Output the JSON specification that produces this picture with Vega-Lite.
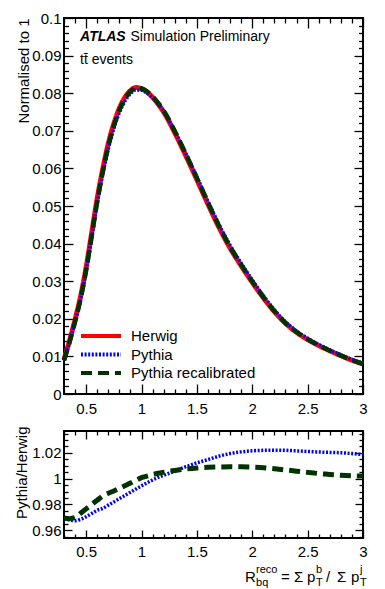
{
  "$schema": "https://vega.github.io/schema/vega-lite/v6.json",
  "autosize": {"type": "pad"},
  "padding": {"left": 12, "top": 10, "right": 5, "bottom": 5},
  "background": "white",
  "datasets": {
    "main": [
      {"x":0.3,"y":0.0092,"s":"Herwig"},{"x":0.35,"y":0.0142,"s":"Herwig"},{"x":0.4,"y":0.0198,"s":"Herwig"},{"x":0.45,"y":0.026,"s":"Herwig"},{"x":0.5,"y":0.0337,"s":"Herwig"},{"x":0.55,"y":0.0428,"s":"Herwig"},{"x":0.6,"y":0.052,"s":"Herwig"},{"x":0.65,"y":0.0598,"s":"Herwig"},{"x":0.7,"y":0.0666,"s":"Herwig"},{"x":0.75,"y":0.0719,"s":"Herwig"},{"x":0.8,"y":0.076,"s":"Herwig"},{"x":0.85,"y":0.0789,"s":"Herwig"},{"x":0.9,"y":0.0807,"s":"Herwig"},{"x":0.95,"y":0.0815,"s":"Herwig"},{"x":1.0,"y":0.0812,"s":"Herwig"},{"x":1.05,"y":0.0803,"s":"Herwig"},{"x":1.1,"y":0.0789,"s":"Herwig"},{"x":1.15,"y":0.0771,"s":"Herwig"},{"x":1.2,"y":0.0750,"s":"Herwig"},{"x":1.3,"y":0.0695,"s":"Herwig"},{"x":1.4,"y":0.0634,"s":"Herwig"},{"x":1.5,"y":0.057,"s":"Herwig"},{"x":1.6,"y":0.0505,"s":"Herwig"},{"x":1.7,"y":0.0443,"s":"Herwig"},{"x":1.8,"y":0.0388,"s":"Herwig"},{"x":1.9,"y":0.0341,"s":"Herwig"},{"x":2.0,"y":0.0297,"s":"Herwig"},{"x":2.1,"y":0.0256,"s":"Herwig"},{"x":2.2,"y":0.0219,"s":"Herwig"},{"x":2.3,"y":0.0188,"s":"Herwig"},{"x":2.4,"y":0.0164,"s":"Herwig"},{"x":2.5,"y":0.0145,"s":"Herwig"},{"x":2.6,"y":0.0129,"s":"Herwig"},{"x":2.7,"y":0.0115,"s":"Herwig"},{"x":2.8,"y":0.0102,"s":"Herwig"},{"x":2.9,"y":0.009,"s":"Herwig"},{"x":3.0,"y":0.008,"s":"Herwig"},
      {"x":0.3,"y":0.00891,"s":"Pythia"},{"x":0.35,"y":0.01375,"s":"Pythia"},{"x":0.4,"y":0.01915,"s":"Pythia"},{"x":0.45,"y":0.02518,"s":"Pythia"},{"x":0.5,"y":0.03271,"s":"Pythia"},{"x":0.55,"y":0.04164,"s":"Pythia"},{"x":0.6,"y":0.05073,"s":"Pythia"},{"x":0.65,"y":0.05842,"s":"Pythia"},{"x":0.7,"y":0.06523,"s":"Pythia"},{"x":0.75,"y":0.0706,"s":"Pythia"},{"x":0.8,"y":0.07482,"s":"Pythia"},{"x":0.85,"y":0.07787,"s":"Pythia"},{"x":0.9,"y":0.07985,"s":"Pythia"},{"x":0.95,"y":0.08085,"s":"Pythia"},{"x":1.0,"y":0.08075,"s":"Pythia"},{"x":1.05,"y":0.08004,"s":"Pythia"},{"x":1.1,"y":0.07882,"s":"Pythia"},{"x":1.15,"y":0.07718,"s":"Pythia"},{"x":1.2,"y":0.0752,"s":"Pythia"},{"x":1.3,"y":0.0699,"s":"Pythia"},{"x":1.4,"y":0.06399,"s":"Pythia"},{"x":1.5,"y":0.0577,"s":"Pythia"},{"x":1.6,"y":0.05125,"s":"Pythia"},{"x":1.7,"y":0.04508,"s":"Pythia"},{"x":1.8,"y":0.03956,"s":"Pythia"},{"x":1.9,"y":0.03481,"s":"Pythia"},{"x":2.0,"y":0.03034,"s":"Pythia"},{"x":2.1,"y":0.02616,"s":"Pythia"},{"x":2.2,"y":0.02238,"s":"Pythia"},{"x":2.3,"y":0.01921,"s":"Pythia"},{"x":2.4,"y":0.01675,"s":"Pythia"},{"x":2.5,"y":0.01481,"s":"Pythia"},{"x":2.6,"y":0.01317,"s":"Pythia"},{"x":2.7,"y":0.01173,"s":"Pythia"},{"x":2.8,"y":0.01041,"s":"Pythia"},{"x":2.9,"y":0.00918,"s":"Pythia"},{"x":3.0,"y":0.00815,"s":"Pythia"},
      {"x":0.3,"y":0.00892,"s":"Pythia recalibrated"},{"x":0.35,"y":0.01376,"s":"Pythia recalibrated"},{"x":0.4,"y":0.0192,"s":"Pythia recalibrated"},{"x":0.45,"y":0.0253,"s":"Pythia recalibrated"},{"x":0.5,"y":0.03291,"s":"Pythia recalibrated"},{"x":0.55,"y":0.04194,"s":"Pythia recalibrated"},{"x":0.6,"y":0.05113,"s":"Pythia recalibrated"},{"x":0.65,"y":0.059,"s":"Pythia recalibrated"},{"x":0.7,"y":0.06585,"s":"Pythia recalibrated"},{"x":0.75,"y":0.07122,"s":"Pythia recalibrated"},{"x":0.8,"y":0.07543,"s":"Pythia recalibrated"},{"x":0.85,"y":0.07847,"s":"Pythia recalibrated"},{"x":0.9,"y":0.08043,"s":"Pythia recalibrated"},{"x":0.95,"y":0.0814,"s":"Pythia recalibrated"},{"x":1.0,"y":0.08126,"s":"Pythia recalibrated"},{"x":1.05,"y":0.08046,"s":"Pythia recalibrated"},{"x":1.1,"y":0.07915,"s":"Pythia recalibrated"},{"x":1.15,"y":0.07742,"s":"Pythia recalibrated"},{"x":1.2,"y":0.07538,"s":"Pythia recalibrated"},{"x":1.3,"y":0.06994,"s":"Pythia recalibrated"},{"x":1.4,"y":0.06388,"s":"Pythia recalibrated"},{"x":1.5,"y":0.05747,"s":"Pythia recalibrated"},{"x":1.6,"y":0.05094,"s":"Pythia recalibrated"},{"x":1.7,"y":0.0447,"s":"Pythia recalibrated"},{"x":1.8,"y":0.03916,"s":"Pythia recalibrated"},{"x":1.9,"y":0.03441,"s":"Pythia recalibrated"},{"x":2.0,"y":0.02996,"s":"Pythia recalibrated"},{"x":2.1,"y":0.02582,"s":"Pythia recalibrated"},{"x":2.2,"y":0.02207,"s":"Pythia recalibrated"},{"x":2.3,"y":0.01893,"s":"Pythia recalibrated"},{"x":2.4,"y":0.0165,"s":"Pythia recalibrated"},{"x":2.5,"y":0.01457,"s":"Pythia recalibrated"},{"x":2.6,"y":0.01295,"s":"Pythia recalibrated"},{"x":2.7,"y":0.01154,"s":"Pythia recalibrated"},{"x":2.8,"y":0.01023,"s":"Pythia recalibrated"},{"x":2.9,"y":0.00902,"s":"Pythia recalibrated"},{"x":3.0,"y":0.00802,"s":"Pythia recalibrated"}
    ],
    "ratio": [
      {"x":0.3,"r":0.9687,"s":"Pythia"},{"x":0.35,"r":0.968,"s":"Pythia"},{"x":0.4,"r":0.9674,"s":"Pythia"},{"x":0.45,"r":0.9685,"s":"Pythia"},{"x":0.5,"r":0.9705,"s":"Pythia"},{"x":0.55,"r":0.973,"s":"Pythia"},{"x":0.6,"r":0.9755,"s":"Pythia"},{"x":0.65,"r":0.977,"s":"Pythia"},{"x":0.7,"r":0.9795,"s":"Pythia"},{"x":0.75,"r":0.982,"s":"Pythia"},{"x":0.8,"r":0.9845,"s":"Pythia"},{"x":0.85,"r":0.987,"s":"Pythia"},{"x":0.9,"r":0.9895,"s":"Pythia"},{"x":0.95,"r":0.992,"s":"Pythia"},{"x":1.0,"r":0.9945,"s":"Pythia"},{"x":1.05,"r":0.9968,"s":"Pythia"},{"x":1.1,"r":0.999,"s":"Pythia"},{"x":1.15,"r":1.001,"s":"Pythia"},{"x":1.2,"r":1.0027,"s":"Pythia"},{"x":1.3,"r":1.0058,"s":"Pythia"},{"x":1.4,"r":1.0093,"s":"Pythia"},{"x":1.5,"r":1.0123,"s":"Pythia"},{"x":1.6,"r":1.0148,"s":"Pythia"},{"x":1.7,"r":1.0175,"s":"Pythia"},{"x":1.8,"r":1.0195,"s":"Pythia"},{"x":1.9,"r":1.0208,"s":"Pythia"},{"x":2.0,"r":1.0216,"s":"Pythia"},{"x":2.1,"r":1.022,"s":"Pythia"},{"x":2.2,"r":1.0221,"s":"Pythia"},{"x":2.3,"r":1.022,"s":"Pythia"},{"x":2.4,"r":1.0216,"s":"Pythia"},{"x":2.5,"r":1.0211,"s":"Pythia"},{"x":2.6,"r":1.0207,"s":"Pythia"},{"x":2.7,"r":1.0204,"s":"Pythia"},{"x":2.8,"r":1.0201,"s":"Pythia"},{"x":2.9,"r":1.0195,"s":"Pythia"},{"x":3.0,"r":1.0187,"s":"Pythia"},
      {"x":0.3,"r":0.9695,"s":"Pythia recalibrated"},{"x":0.35,"r":0.969,"s":"Pythia recalibrated"},{"x":0.4,"r":0.9698,"s":"Pythia recalibrated"},{"x":0.45,"r":0.9732,"s":"Pythia recalibrated"},{"x":0.5,"r":0.9766,"s":"Pythia recalibrated"},{"x":0.55,"r":0.98,"s":"Pythia recalibrated"},{"x":0.6,"r":0.9833,"s":"Pythia recalibrated"},{"x":0.65,"r":0.9866,"s":"Pythia recalibrated"},{"x":0.7,"r":0.9887,"s":"Pythia recalibrated"},{"x":0.75,"r":0.9905,"s":"Pythia recalibrated"},{"x":0.8,"r":0.9925,"s":"Pythia recalibrated"},{"x":0.85,"r":0.9946,"s":"Pythia recalibrated"},{"x":0.9,"r":0.9966,"s":"Pythia recalibrated"},{"x":0.95,"r":0.9988,"s":"Pythia recalibrated"},{"x":1.0,"r":1.0008,"s":"Pythia recalibrated"},{"x":1.05,"r":1.002,"s":"Pythia recalibrated"},{"x":1.1,"r":1.0032,"s":"Pythia recalibrated"},{"x":1.15,"r":1.0042,"s":"Pythia recalibrated"},{"x":1.2,"r":1.005,"s":"Pythia recalibrated"},{"x":1.3,"r":1.0064,"s":"Pythia recalibrated"},{"x":1.4,"r":1.0075,"s":"Pythia recalibrated"},{"x":1.5,"r":1.0083,"s":"Pythia recalibrated"},{"x":1.6,"r":1.0088,"s":"Pythia recalibrated"},{"x":1.7,"r":1.0091,"s":"Pythia recalibrated"},{"x":1.8,"r":1.0092,"s":"Pythia recalibrated"},{"x":1.9,"r":1.0092,"s":"Pythia recalibrated"},{"x":2.0,"r":1.0089,"s":"Pythia recalibrated"},{"x":2.1,"r":1.0085,"s":"Pythia recalibrated"},{"x":2.2,"r":1.0077,"s":"Pythia recalibrated"},{"x":2.3,"r":1.0068,"s":"Pythia recalibrated"},{"x":2.4,"r":1.0058,"s":"Pythia recalibrated"},{"x":2.5,"r":1.0049,"s":"Pythia recalibrated"},{"x":2.6,"r":1.004,"s":"Pythia recalibrated"},{"x":2.7,"r":1.0033,"s":"Pythia recalibrated"},{"x":2.8,"r":1.0026,"s":"Pythia recalibrated"},{"x":2.9,"r":1.0022,"s":"Pythia recalibrated"},{"x":3.0,"r":1.002,"s":"Pythia recalibrated"}
    ],
    "atlas": [{"x":0.445,"y":0.0939,"t":"ATLAS"}],
    "notes": [{"x":0.9,"y":0.0939,"t":"Simulation Preliminary"},{"x":0.445,"y":0.0877,"t":"tt̄ events"}],
    "ttl_main": [{"x":1.934,"r":0.9202,"t":"R"},{"x":2.26,"r":0.9202,"t":"="},{"x":2.377,"r":0.9202,"t":"Σ"},{"x":2.494,"r":0.9202,"t":"p"},{"x":2.666,"r":0.9202,"t":"/"},{"x":2.765,"r":0.9202,"t":"Σ"},{"x":2.892,"r":0.9202,"t":"p"}],
    "ttl_sup": [{"x":2.034,"r":0.9272,"t":"reco"},{"x":2.576,"r":0.9272,"t":"b"},{"x":2.973,"r":0.9272,"t":"j"}],
    "ttl_sub": [{"x":2.034,"r":0.9164,"t":"bq"},{"x":2.576,"r":0.9164,"t":"T"},{"x":2.973,"r":0.9164,"t":"T"}]
  },
  "spacing": 37,
  "bounds": "flush",
  "resolve": {"scale": {"color": "independent", "strokeDash": "independent"}},
  "vconcat": [
    {
      "width": 299,
      "height": 376,
      "layer": [
        {
          "data": {"name": "main"},
          "transform": [{"filter": "datum.s == 'Herwig'"}],
          "mark": {"type": "line", "interpolate": "monotone", "strokeCap": "butt", "strokeWidth": 5},
          "encoding": {
            "x": {"field": "x", "type": "quantitative", "scale": {"domain": [0.3, 3], "nice": false, "zero": false},
              "axis": {"orient": "bottom", "title": null,
                "values": [0.3,0.4,0.5,0.6,0.7,0.8,0.9,1,1.1,1.2,1.3,1.4,1.5,1.6,1.7,1.8,1.9,2,2.1,2.2,2.3,2.4,2.5,2.6,2.7,2.8,2.9,3],
                "tickSize": {"condition": {"test": "round(datum.value*10)%5==0", "value": -10}, "value": -5},
                "labelExpr": "round(datum.value*10)%5==0 ? format(datum.value,'~g') : ''",
                "labelPadding": 17}},
            "y": {"field": "y", "type": "quantitative", "scale": {"domain": [0, 0.1], "nice": false},
              "axis": {"orient": "left", "title": "Normalised to 1",
                "values": [0,0.002,0.004,0.006,0.008,0.01,0.012,0.014,0.016,0.018,0.02,0.022,0.024,0.026,0.028,0.03,0.032,0.034,0.036,0.038,0.04,0.042,0.044,0.046,0.048,0.05,0.052,0.054,0.056,0.058,0.06,0.062,0.064,0.066,0.068,0.07,0.072,0.074,0.076,0.078,0.08,0.082,0.084,0.086,0.088,0.09,0.092,0.094,0.096,0.098,0.1],
                "tickSize": {"condition": {"test": "round(datum.value*500)%5==0", "value": -9}, "value": -4.5},
                "labelExpr": "round(datum.value*500)%5==0 ? format(datum.value,'~g') : ''",
                "labelPadding": 12,
                "titleAngle": -90, "titleX": -41, "titleY": 0, "titleAlign": "right", "titleBaseline": "middle"}},
            "color": {"field": "s", "type": "nominal",
              "scale": {"domain": ["Herwig", "Pythia", "Pythia recalibrated"], "range": ["#ff0000", "#0000ff", "#003300"]},
              "legend": {"orient": "none", "legendX": 15, "legendY": 310, "title": null, "symbolType": "stroke", "symbolSize": 1600, "symbolStrokeWidth": 4, "labelFontSize": 15, "labelFont": "Liberation Sans", "labelColor": "black", "labelOffset": 8, "rowPadding": 2.5, "clipHeight": 16, "padding": 0}},
            "strokeDash": {"field": "s", "type": "nominal",
              "scale": {"domain": ["Herwig", "Pythia", "Pythia recalibrated"], "range": [[1, 0], [2, 1.6], [11, 6]]},
              "legend": {"orient": "none", "legendX": 15, "legendY": 310, "title": null, "symbolType": "stroke", "symbolSize": 1600, "symbolStrokeWidth": 4, "labelFontSize": 15, "labelFont": "Liberation Sans", "labelColor": "black", "labelOffset": 8, "rowPadding": 2.5, "clipHeight": 16, "padding": 0}}
          }
        },
        {
          "data": {"name": "main"},
          "transform": [{"filter": "datum.s == 'Pythia'"}],
          "mark": {"type": "line", "interpolate": "monotone", "strokeCap": "butt", "strokeWidth": 3.5},
          "encoding": {
            "x": {"field": "x", "type": "quantitative", "axis": null},
            "y": {"field": "y", "type": "quantitative", "axis": null},
            "color": {"field": "s", "type": "nominal"},
            "strokeDash": {"field": "s", "type": "nominal"}
          }
        },
        {
          "data": {"name": "main"},
          "transform": [{"filter": "datum.s == 'Pythia recalibrated'"}],
          "mark": {"type": "line", "interpolate": "monotone", "strokeCap": "butt", "strokeWidth": 4.5},
          "encoding": {
            "x": {"field": "x", "type": "quantitative", "axis": null},
            "y": {"field": "y", "type": "quantitative", "axis": null},
            "color": {"field": "s", "type": "nominal"},
            "strokeDash": {"field": "s", "type": "nominal"}
          }
        },
        {
          "data": {"name": "atlas"},
          "mark": {"type": "text", "align": "left", "baseline": "alphabetic", "fontSize": 14, "fontWeight": "bold", "fontStyle": "italic", "font": "Liberation Sans", "color": "black"},
          "encoding": {
            "x": {"field": "x", "type": "quantitative", "axis": null},
            "y": {"field": "y", "type": "quantitative", "axis": null},
            "text": {"field": "t"}
          }
        },
        {
          "data": {"name": "notes"},
          "mark": {"type": "text", "align": "left", "baseline": "alphabetic", "fontSize": 14, "font": "Liberation Sans", "color": "black"},
          "encoding": {
            "x": {"field": "x", "type": "quantitative",
              "axis": {"orient": "top", "title": null, "labels": false,
                "values": [0.3,0.4,0.5,0.6,0.7,0.8,0.9,1,1.1,1.2,1.3,1.4,1.5,1.6,1.7,1.8,1.9,2,2.1,2.2,2.3,2.4,2.5,2.6,2.7,2.8,2.9,3],
                "tickSize": {"condition": {"test": "round(datum.value*10)%5==0", "value": -10}, "value": -5}}},
            "y": {"field": "y", "type": "quantitative",
              "axis": {"orient": "right", "title": null, "labels": false,
                "values": [0,0.002,0.004,0.006,0.008,0.01,0.012,0.014,0.016,0.018,0.02,0.022,0.024,0.026,0.028,0.03,0.032,0.034,0.036,0.038,0.04,0.042,0.044,0.046,0.048,0.05,0.052,0.054,0.056,0.058,0.06,0.062,0.064,0.066,0.068,0.07,0.072,0.074,0.076,0.078,0.08,0.082,0.084,0.086,0.088,0.09,0.092,0.094,0.096,0.098,0.1],
                "tickSize": {"condition": {"test": "round(datum.value*500)%5==0", "value": -9}, "value": -4.5}}},
            "text": {"field": "t"}
          }
        }
      ],
      "resolve": {"axis": {"x": "independent", "y": "independent"}}
    },
    {
      "width": 299,
      "height": 107,
      "layer": [
        {
          "data": {"name": "ratio"},
          "transform": [{"filter": "datum.s == 'Pythia'"}],
          "mark": {"type": "line", "interpolate": "monotone", "strokeCap": "butt", "strokeWidth": 3.5},
          "encoding": {
            "x": {"field": "x", "type": "quantitative", "scale": {"domain": [0.3, 3], "nice": false, "zero": false},
              "axis": {"orient": "bottom", "title": null,
                "values": [0.3,0.4,0.5,0.6,0.7,0.8,0.9,1,1.1,1.2,1.3,1.4,1.5,1.6,1.7,1.8,1.9,2,2.1,2.2,2.3,2.4,2.5,2.6,2.7,2.8,2.9,3],
                "tickSize": {"condition": {"test": "round(datum.value*10)%5==0", "value": -8}, "value": -4},
                "labelExpr": "round(datum.value*10)%5==0 ? format(datum.value,'~g') : ''",
                "labelPadding": 14}},
            "y": {"field": "r", "type": "quantitative", "scale": {"domain": [0.954, 1.037], "nice": false, "zero": false},
              "axis": {"orient": "left", "title": "Pythia/Herwig",
                "values": [0.955,0.96,0.965,0.97,0.975,0.98,0.985,0.99,0.995,1,1.005,1.01,1.015,1.02,1.025,1.03,1.035],
                "tickSize": {"condition": {"test": "round(datum.value*200)%4==0", "value": -8}, "value": -4},
                "labelExpr": "round(datum.value*200)%4==0 ? format(datum.value,'~g') : ''",
                "labelPadding": 11,
                "titleAngle": -90, "titleX": -43, "titleY": -5, "titleAlign": "right", "titleBaseline": "middle"}},
            "color": {"field": "s", "type": "nominal",
              "scale": {"domain": ["Pythia", "Pythia recalibrated"], "range": ["#0000ff", "#003300"]}, "legend": null},
            "strokeDash": {"field": "s", "type": "nominal",
              "scale": {"domain": ["Pythia", "Pythia recalibrated"], "range": [[2, 1.6], [11, 6]]}, "legend": null}
          }
        },
        {
          "data": {"name": "ratio"},
          "transform": [{"filter": "datum.s == 'Pythia recalibrated'"}],
          "mark": {"type": "line", "interpolate": "monotone", "strokeCap": "butt", "strokeWidth": 5},
          "encoding": {
            "x": {"field": "x", "type": "quantitative", "axis": null},
            "y": {"field": "r", "type": "quantitative", "axis": null},
            "color": {"field": "s", "type": "nominal", "legend": null},
            "strokeDash": {"field": "s", "type": "nominal", "legend": null}
          }
        },
        {
          "data": {"name": "ttl_main"},
          "mark": {"type": "text", "align": "left", "baseline": "alphabetic", "fontSize": 15, "font": "Liberation Sans", "color": "black"},
          "encoding": {
            "x": {"field": "x", "type": "quantitative",
              "axis": {"orient": "top", "title": null, "labels": false,
                "values": [0.3,0.4,0.5,0.6,0.7,0.8,0.9,1,1.1,1.2,1.3,1.4,1.5,1.6,1.7,1.8,1.9,2,2.1,2.2,2.3,2.4,2.5,2.6,2.7,2.8,2.9,3],
                "tickSize": {"condition": {"test": "round(datum.value*10)%5==0", "value": -8}, "value": -4}}},
            "y": {"field": "r", "type": "quantitative",
              "axis": {"orient": "right", "title": null, "labels": false,
                "values": [0.955,0.96,0.965,0.97,0.975,0.98,0.985,0.99,0.995,1,1.005,1.01,1.015,1.02,1.025,1.03,1.035],
                "tickSize": {"condition": {"test": "round(datum.value*200)%4==0", "value": -8}, "value": -4}}},
            "text": {"field": "t"}
          }
        },
        {
          "data": {"name": "ttl_sup"},
          "mark": {"type": "text", "align": "left", "baseline": "alphabetic", "fontSize": 11, "font": "Liberation Sans", "color": "black"},
          "encoding": {
            "x": {"field": "x", "type": "quantitative", "axis": null},
            "y": {"field": "r", "type": "quantitative", "axis": null},
            "text": {"field": "t"}
          }
        },
        {
          "data": {"name": "ttl_sub"},
          "mark": {"type": "text", "align": "left", "baseline": "alphabetic", "fontSize": 11, "font": "Liberation Sans", "color": "black"},
          "encoding": {
            "x": {"field": "x", "type": "quantitative", "axis": null},
            "y": {"field": "r", "type": "quantitative", "axis": null},
            "text": {"field": "t"}
          }
        }
      ],
      "resolve": {"axis": {"x": "independent", "y": "independent"}}
    }
  ],
  "config": {
    "view": {"stroke": "black", "strokeWidth": 2},
    "font": "Liberation Sans",
    "axis": {"domain": false, "grid": false, "tickColor": "black", "tickWidth": 1.3,
      "labelFont": "Liberation Sans", "labelFontSize": 15, "labelColor": "black",
      "titleFont": "Liberation Sans", "titleFontSize": 15, "titleFontWeight": "normal", "titleColor": "black",
      "labelOverlap": false, "labelFlush": false, "labelBound": false}
  }
}
